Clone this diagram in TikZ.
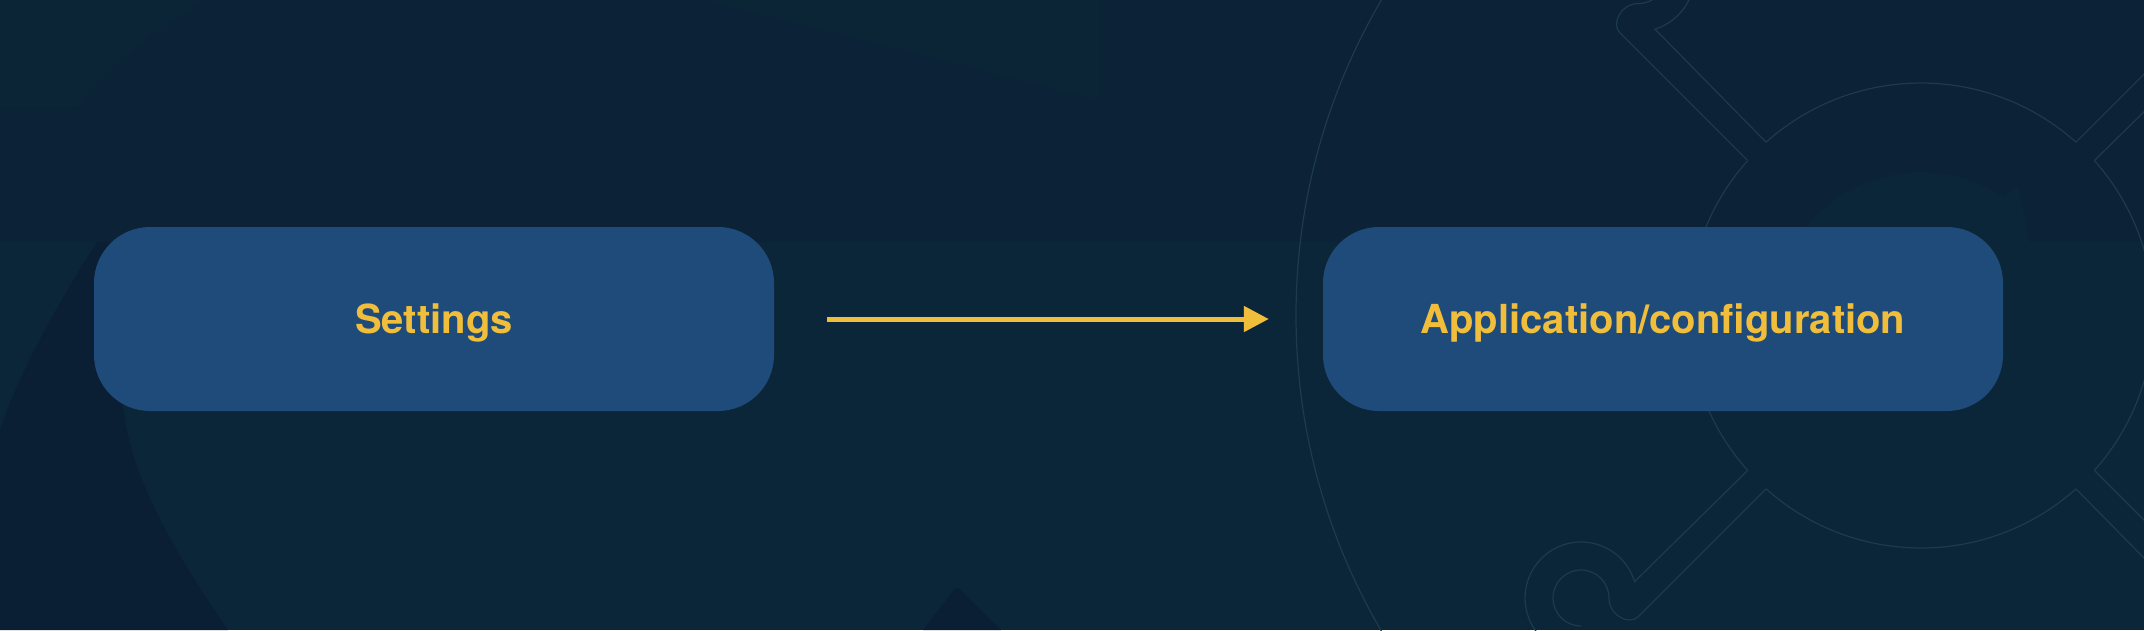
\documentclass[tikz,border=0pt]{standalone}
\usepackage{fontspec}
\setmainfont{TeX Gyre Heros}
\usetikzlibrary{arrows.meta}
\definecolor{bgtop}{HTML}{0B2237}
\definecolor{bgbot}{HTML}{0C2639}
\definecolor{bgdark}{HTML}{0A1F34}
\definecolor{bglite}{HTML}{0C2536}
\definecolor{boxblue}{HTML}{1F4B7A}
\definecolor{gold}{HTML}{F0BE3A}
\definecolor{gearline}{HTML}{1D3B48}
\tikzset{
  procbox/.style={fill=boxblue, rounded corners=56pt, minimum width=680pt, minimum height=184pt,
    inner sep=0pt, text=gold, font=\fontsize{40}{48}\selectfont\bfseries, text height=29pt, text depth=0pt},
  flowarrow/.style={draw=gold, line width=5pt, -{Triangle[length=25pt,width=25pt]},
    shorten <=53pt, shorten >=54pt},
  gearstroke/.style={draw=gearline, line width=1.2pt}
}
\begin{document}
\begin{tikzpicture}[x=1pt,y=-1pt]
\useasboundingbox (0,0) rectangle (2144,630);
\begin{scope}
  \clip (0,0) rectangle (2144,630);
  \fill[bgtop] (0,0) rectangle (2144,630);
  \fill[bglite] (0,0) -- (207,0) .. controls (150,30) and (100,75) .. (77,107) -- (0,107) -- cycle;
  \fill[bglite] (703,0) -- (1099,0) -- (1099,100) -- cycle;
  \fill[bgbot] (0,242) rectangle (2144,630);
  \fill[bgdark] (97,242) .. controls (60,300) and (20,370) .. (0,430) -- (0,630) -- (228,630)
     .. controls (180,560) and (130,480) .. (123,405) -- (130,242) -- cycle;
  \fill[bgdark] (923,630) -- (953,591) .. controls (956,587) and (958,587) .. (961,591) -- (1001,630) -- cycle;
  \fill[bgbot] (2003,197) arc[start angle=-56.3, end angle=-148.6, radius=148]
     -- (1795,250) -- (2031,250) -- (2018,185) -- cycle;
  \begin{scope}[shift={(1921,315.5)}, gearstroke]
    \draw (0,0) circle (625);
    \foreach \a in {45,135,225,315} {
      \draw (\a+3.2:232.5) arc[start angle=\a+3.2, end angle=\a+86.8, radius=232.5];
    }
    \foreach \r in {0,-90,-180,-270} {
      \begin{scope}[rotate=\r]
        \draw (-173.3,154.9) -- (-286.4,266.1) arc[start angle=-17, end angle=-265, radius=56];
        \draw (-154.9,173.3) -- (-283,301.4) .. controls (-292,310) and (-312,300) .. (-312,282.5)
           arc[start angle=0, end angle=-270, radius=28];
      \end{scope}
    }
  \end{scope}
\end{scope}
\node[procbox] (settings) at (434,319) {Settings};
\node[procbox] (appconf) at (1663,319) {Application/configuration};
\draw[flowarrow] (settings) -- (appconf);
\end{tikzpicture}
\end{document}
